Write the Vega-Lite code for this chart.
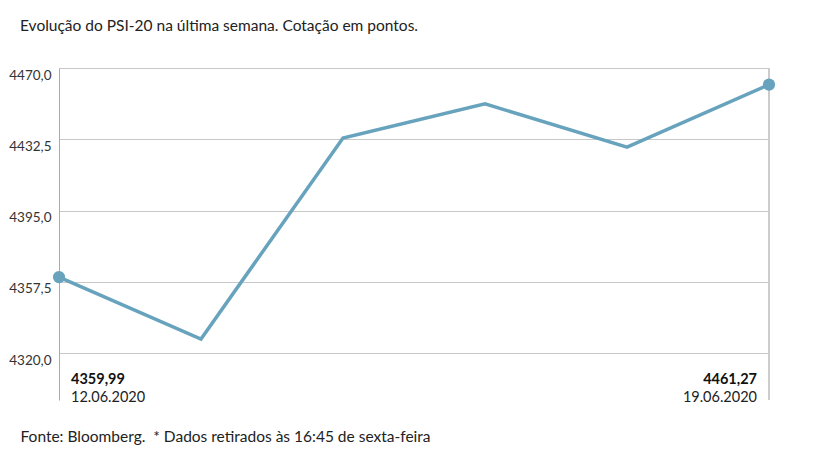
{
  "$schema": "https://vega.github.io/schema/vega-lite/v6.json",
  "width": 710,
  "height": 332,
  "autosize": {"type": "none"},
  "padding": {"left": 59, "top": 68, "right": 48, "bottom": 60},
  "background": "white",
  "config": {
    "font": "Lato",
    "view": {"stroke": null}
  },
  "title": {
    "text": "Evolução do PSI-20 na última semana. Cotação em pontos.",
    "anchor": "start",
    "frame": "group",
    "dx": -39,
    "offset": 33,
    "fontSize": 15.5,
    "fontWeight": "normal",
    "color": "#222222"
  },
  "data": {
    "values": [
      {"date": "12.06.2020", "value": 4359.99, "label": "4359,99"},
      {"date": "15.06.2020", "value": 4327.4, "label": "4327,40"},
      {"date": "16.06.2020", "value": 4433.2, "label": "4433,20"},
      {"date": "17.06.2020", "value": 4451.1, "label": "4451,10"},
      {"date": "18.06.2020", "value": 4428.4, "label": "4428,40"},
      {"date": "19.06.2020", "value": 4461.27, "label": "4461,27"}
    ]
  },
  "encoding": {
    "x": {
      "field": "date",
      "type": "ordinal",
      "sort": null,
      "scale": {
        "type": "point",
        "padding": 0,
        "domain": ["12.06.2020", "15.06.2020", "16.06.2020", "17.06.2020", "18.06.2020", "19.06.2020"]
      },
      "axis": {
        "labels": false,
        "ticks": false,
        "domain": false,
        "grid": false,
        "title": "Fonte: Bloomberg.\u00a0 * Dados retirados às 16:45 de sexta-feira",
        "titleX": -39,
        "titleY": 36,
        "titleAlign": "left",
        "titleBaseline": "middle",
        "titleFontSize": 15.5,
        "titleFontWeight": "normal",
        "titleColor": "#222222"
      }
    }
  },
  "layer": [
    {
      "mark": {"type": "rule", "color": "#cccccc", "strokeWidth": 2},
      "encoding": {"x": {"datum": "19.06.2020", "type": "ordinal"}}
    },
    {
      "mark": {"type": "line", "color": "#68a3be", "strokeWidth": 3.5},
      "encoding": {
        "y": {
          "field": "value",
          "type": "quantitative",
          "scale": {"domain": [4295.3, 4470], "nice": false, "zero": false},
          "axis": {
            "title": null,
            "values": [4320, 4357.5, 4395, 4432.5, 4470],
            "labelExpr": "replace(format(datum.value, '.1f'), '.', ',')",
            "labelBaseline": "top",
            "labelPadding": 8,
            "labelFontSize": 13.5,
            "labelColor": "#333333",
            "ticks": false,
            "domainColor": "#aaaaaa",
            "gridColor": "#c8c8c8",
            "gridWidth": 1
          }
        }
      }
    },
    {
      "transform": [{"filter": "datum.date === '12.06.2020' || datum.date === '19.06.2020'"}],
      "mark": {"type": "circle", "color": "#68a3be", "opacity": 1, "size": 150},
      "encoding": {"y": {"field": "value", "type": "quantitative"}}
    },
    {
      "transform": [{"filter": "datum.date === '12.06.2020'"}],
      "mark": {"type": "text", "align": "left", "dx": 12, "fontWeight": "bold", "fontSize": 14.5, "color": "#111111", "baseline": "middle"},
      "encoding": {"y": {"datum": 4305.8}, "text": {"field": "label"}}
    },
    {
      "transform": [{"filter": "datum.date === '12.06.2020'"}],
      "mark": {"type": "text", "align": "left", "dx": 12, "fontSize": 14.5, "color": "#222222", "baseline": "middle"},
      "encoding": {"y": {"datum": 4296.4}, "text": {"field": "date"}}
    },
    {
      "transform": [{"filter": "datum.date === '19.06.2020'"}],
      "mark": {"type": "text", "align": "right", "dx": -12, "fontWeight": "bold", "fontSize": 14.5, "color": "#111111", "baseline": "middle"},
      "encoding": {"y": {"datum": 4305.8}, "text": {"field": "label"}}
    },
    {
      "transform": [{"filter": "datum.date === '19.06.2020'"}],
      "mark": {"type": "text", "align": "right", "dx": -12, "fontSize": 14.5, "color": "#222222", "baseline": "middle"},
      "encoding": {"y": {"datum": 4296.4}, "text": {"field": "date"}}
    }
  ]
}
